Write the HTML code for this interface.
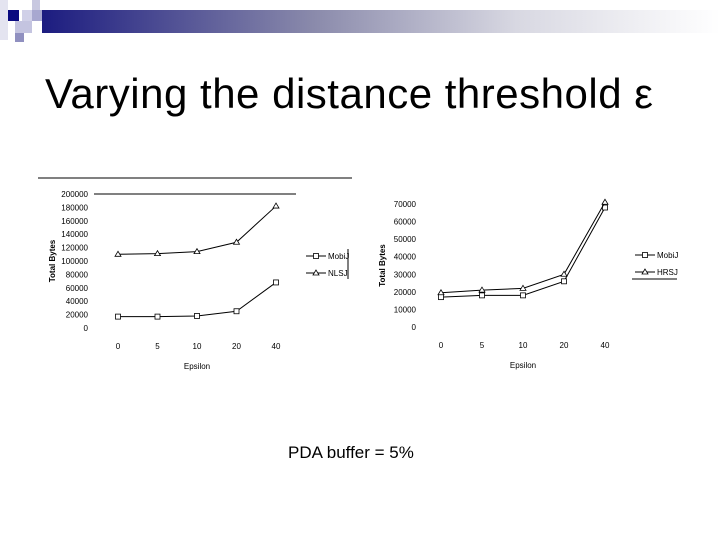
<!DOCTYPE html>
<html><head><meta charset="utf-8"><style>
body{margin:0;background:#fff;}
svg text{font-family:"Liberation Sans",sans-serif;}
</style></head><body>
<svg width="720" height="540" viewBox="0 0 720 540" xmlns="http://www.w3.org/2000/svg">
<defs><linearGradient id="g" x1="0" x2="1"><stop offset="0" stop-color="#1c1c80"/><stop offset="0.4" stop-color="#8a8aab"/><stop offset="0.7" stop-color="#d8d8e2"/><stop offset="1" stop-color="#fff"/></linearGradient></defs>
<g>
<rect x="0" y="0" width="8" height="40" fill="#e4e4f0"/>
<rect x="32" y="0" width="8" height="10" fill="#c8c8e0"/>
<rect x="8" y="10" width="11" height="11" fill="#0a0a80"/>
<rect x="22" y="10" width="11" height="11" fill="#d0d0e8"/>
<rect x="32" y="10" width="11" height="11" fill="#a8a8d0"/>
<rect x="15" y="21" width="17" height="12" fill="#c4c4e0"/>
<rect x="15" y="33" width="9" height="9" fill="#9090c0"/>
<rect x="42" y="10" width="678" height="23" fill="url(#g)"/>
</g>
<text x="45" y="108" font-size="42" textLength="608" fill="#000">Varying the distance threshold ε</text>
<line x1="38" y1="178" x2="352" y2="178" stroke="#000" stroke-width="1"/>
<g id="c1"></g>
<g id="c2"></g>
<text x="288" y="458" font-size="17">PDA buffer = 5%</text>
</svg>
<script>
const categories=["0","5","10","20","40"];
const c1Mobi=[17000,17000,18000,25000,68000];
const c1Nlsj=[110000,111000,114000,128000,182000];
const c1Ticks=[0,20000,40000,60000,80000,100000,120000,140000,160000,180000,200000];
const c2Mobi=[17000,18000,18000,26000,68000];
const c2Hrsj=[19500,21000,22000,30000,71000];
const c2Ticks=[0,10000,20000,30000,40000,50000,60000,70000];
const NS="http://www.w3.org/2000/svg";
function mk(p,t,a){const e=document.createElementNS(NS,t);for(const k in a)e.setAttribute(k,a[k]);p.appendChild(e);return e;}
function marker(g,cx,cy,tri){
  if(tri)return mk(g,'polygon',{points:`${cx},${cy-3} ${cx-3},${cy+2} ${cx+3},${cy+2}`,fill:'#fff',stroke:'#000','stroke-width':0.8});
  return mk(g,'rect',{x:cx-2.5,y:cy-2.5,width:5,height:5,fill:'#fff',stroke:'#000','stroke-width':0.8});
}
function chart(g,cfg){
  const y=v=>cfg.y0-(v/cfg.max)*(cfg.y0-cfg.y1);
  const x=i=>cfg.xs+i*cfg.dx;
  cfg.ticks.forEach(t=>{const e=mk(g,'text',{x:cfg.ax,y:y(t)+3,'font-size':8,'text-anchor':'end'});e.textContent=t;
    
    });
  categories.forEach((c,i)=>{const e=mk(g,'text',{x:x(i),y:cfg.lx,'font-size':8,'text-anchor':'middle'});e.textContent=c;
    
    });
  const yt=mk(g,'text',{x:0,y:0,'font-size':8,'font-weight':'bold','text-anchor':'middle',transform:`translate(${cfg.ytx},${(cfg.y0+cfg.y1)/2}) rotate(-90)`});yt.textContent='Total Bytes';
  
  
  const xt=mk(g,'text',{x:(x(0)+x(4))/2,y:cfg.lx+20,'font-size':8,'text-anchor':'middle'});xt.textContent='Epsilon';
  
  
  cfg.series.forEach((s,si)=>{
    const pts=s.data.map((v,i)=>x(i)+','+y(v)).join(' ');
    const l=mk(g,'polyline',{points:pts,fill:'none',stroke:'#000','stroke-width':1});
    
    
    s.data.forEach((v,i)=>{const m=marker(g,x(i),y(v),s.tri);
      
      });
    const ly=cfg.ly+si*17;
    mk(g,'line',{x1:cfg.lgx,y1:ly,x2:cfg.lgx+20,y2:ly,stroke:'#000'});
    marker(g,cfg.lgx+10,ly,s.tri);
    const t=mk(g,'text',{x:cfg.lgx+22,y:ly+3,'font-size':8});t.textContent=s.name;
    
    
  });
}
chart(document.getElementById('c1'),{y0:328,y1:194,max:200000,ticks:c1Ticks,xs:118,dx:39.5,ax:88,lx:349,ytx:55,ly:256,lgx:306,
  series:[{name:'MobiJ',data:c1Mobi},{name:'NLSJ',data:c1Nlsj,tri:true}]});
mk(document.getElementById('c1'),'line',{x1:94,y1:194,x2:296,y2:194,stroke:'#000'});
mk(document.getElementById('c1'),'line',{x1:348,y1:249,x2:348,y2:279,stroke:'#000'});
chart(document.getElementById('c2'),{y0:327,y1:204,max:70000,ticks:c2Ticks,xs:441,dx:41,ax:416,lx:348,ytx:385,ly:255,lgx:635,
  series:[{name:'MobiJ',data:c2Mobi},{name:'HRSJ',data:c2Hrsj,tri:true}]});
mk(document.getElementById('c2'),'line',{x1:632,y1:279,x2:677,y2:279,stroke:'#000'});
</script>
</body></html>
